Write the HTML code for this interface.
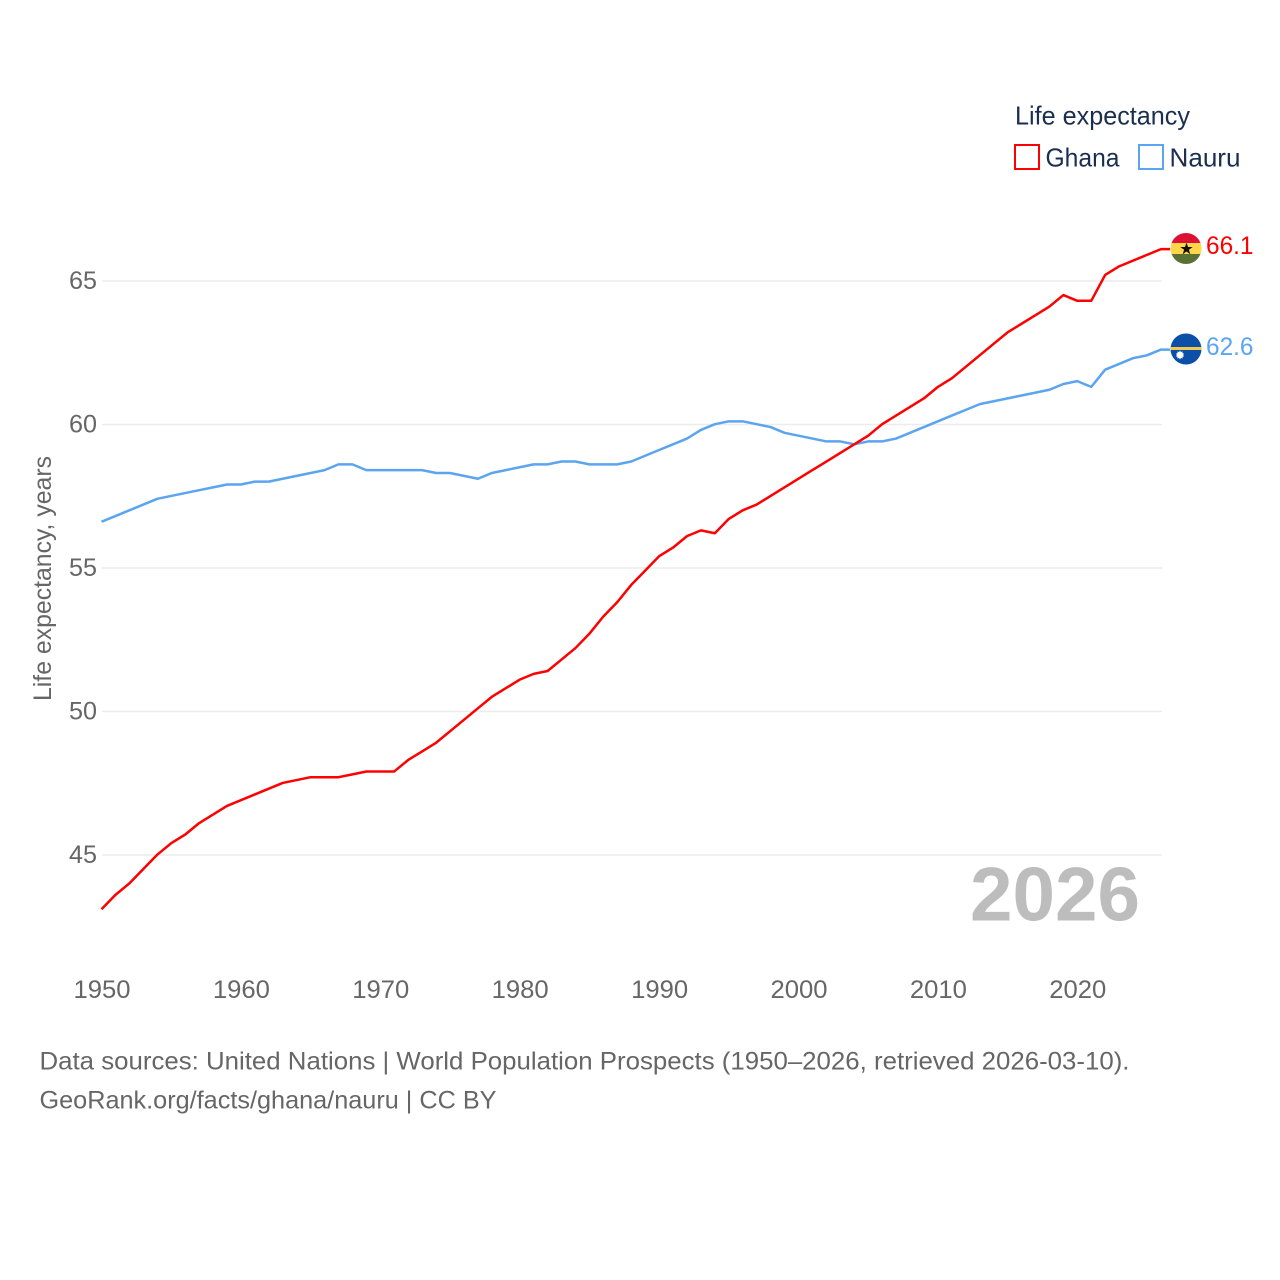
<!DOCTYPE html>
<html lang="en">
<head>
<meta charset="utf-8">
<title>Life expectancy: Ghana and Nauru</title>
<style>
html,body{margin:0;padding:0;background:#fff;}
svg{display:block;}
text{font-family:"Liberation Sans",sans-serif;}
</style>
</head>
<body>
<svg id="chart" width="1280" height="1280" viewBox="0 0 1280 1280" xmlns="http://www.w3.org/2000/svg">
  <rect width="1280" height="1280" fill="#fff"/>
  <g id="grid"></g>
  <g id="yticks"></g>
  <g id="xticks"></g>
  <text transform="translate(51,701) rotate(-90)" font-size="25" fill="#666" textLength="245" lengthAdjust="spacingAndGlyphs">Life expectancy, years</text>
  <g id="series"></g>

  <g>
    <text x="1015" y="124.500" font-size="26" fill="#1a2e4f" textLength="175" lengthAdjust="spacingAndGlyphs">Life expectancy</text>
    <rect x="1015" y="145" width="24" height="24" fill="none" stroke="#ff0000" stroke-width="2"/>
    <text x="1045.500" y="166.500" font-size="26" fill="#1a2e4f" textLength="74" lengthAdjust="spacingAndGlyphs">Ghana</text>
    <rect x="1139" y="145" width="24" height="24" fill="none" stroke="#5ba4f0" stroke-width="2"/>
    <text x="1169.500" y="166.500" font-size="26" fill="#1a2e4f" textLength="71" lengthAdjust="spacingAndGlyphs">Nauru</text>
  </g>

  <defs>
    <clipPath id="clip-gh"><circle cx="1186" cy="248.500" r="15.500"/></clipPath>
    <clipPath id="clip-nr"><circle cx="1186" cy="349" r="15.500"/></clipPath>
  </defs>
  <g clip-path="url(#clip-gh)">
    <rect x="1170" y="233" width="32" height="10" fill="#dd1133"/>
    <rect x="1170" y="243" width="32" height="11" fill="#ffd54a"/>
    <rect x="1170" y="254" width="32" height="11" fill="#5a7136"/>
    <polygon points="1186.500,242.500 1188,247 1192.700,247 1188.900,249.800 1190.300,254.300 1186.500,251.500 1182.700,254.300 1184.100,249.800 1180.300,247 1185,247" fill="#111"/>
  </g>
  <text x="1206" y="254" font-size="25" fill="#ff0000" textLength="47.500" lengthAdjust="spacingAndGlyphs">66.1</text>
  <g clip-path="url(#clip-nr)">
    <rect x="1170" y="333" width="32" height="32" fill="#0b4fa8"/>
    <rect x="1170" y="347" width="32" height="3" fill="#f2c84b"/>
    <polygon points="1180,350.500 1180.900,352.100 1182.500,351.400 1182.500,353.200 1184.200,353.700 1183,355 1184.200,356.300 1182.500,356.800 1182.500,358.600 1180.900,357.900 1180,359.500 1179.100,357.900 1177.500,358.600 1177.500,356.800 1175.800,356.300 1177,355 1175.800,353.700 1177.500,353.200 1177.500,351.400 1179.100,352.100" fill="#fff"/>
  </g>
  <text x="1206" y="355" font-size="25" fill="#5ba4f0" textLength="47.500" lengthAdjust="spacingAndGlyphs">62.6</text>

  <text x="970" y="920.500" font-size="76" font-weight="700" fill="#bdbdbd" textLength="170" lengthAdjust="spacingAndGlyphs">2026</text>

  <text x="39.500" y="1069.500" font-size="25" fill="#666" textLength="1090" lengthAdjust="spacingAndGlyphs">Data sources: United Nations | World Population Prospects (1950–2026, retrieved 2026-03-10).</text>
  <text x="39.500" y="1108.500" font-size="25" fill="#666" textLength="457" lengthAdjust="spacingAndGlyphs">GeoRank.org/facts/ghana/nauru | CC BY</text>
</svg>
<script>
const startYear = 1950;
const ghanaValues = [43.1,43.6,44.0,44.5,45.0,45.4,45.7,46.1,46.4,46.7,46.9,47.1,47.3,47.5,47.6,47.7,47.7,47.7,47.8,47.9,47.9,47.9,48.3,48.6,48.9,49.3,49.7,50.1,50.5,50.8,51.1,51.3,51.4,51.8,52.2,52.7,53.3,53.8,54.4,54.9,55.4,55.7,56.1,56.3,56.2,56.7,57.0,57.2,57.5,57.8,58.1,58.4,58.7,59.0,59.3,59.6,60.0,60.3,60.6,60.9,61.3,61.6,62.0,62.4,62.8,63.2,63.5,63.8,64.1,64.5,64.3,64.3,65.2,65.5,65.7,65.9,66.1];
const nauruValues = [56.6,56.8,57.0,57.2,57.4,57.5,57.6,57.7,57.8,57.9,57.9,58.0,58.0,58.1,58.2,58.3,58.4,58.6,58.6,58.4,58.4,58.4,58.4,58.4,58.3,58.3,58.2,58.1,58.3,58.4,58.5,58.6,58.6,58.7,58.7,58.6,58.6,58.6,58.7,58.9,59.1,59.3,59.5,59.8,60.0,60.1,60.1,60.0,59.9,59.7,59.6,59.5,59.4,59.4,59.3,59.4,59.4,59.5,59.7,59.9,60.1,60.3,60.5,60.7,60.8,60.9,61.0,61.1,61.2,61.4,61.5,61.3,61.9,62.1,62.3,62.4,62.6];
const yTickValues = [45,50,55,60,65];
const xTickValues = [1950,1960,1970,1980,1990,2000,2010,2020];

const NS = 'http://www.w3.org/2000/svg';
const xScale = function (year) { return 101.5 + (year - 1950) * 13.94; };
const yScale = function (v) { return 854.7 - (v - 45) * 28.7; };
const gridRight = 1162;

const gridGroup = document.getElementById('grid');
const yGroup = document.getElementById('yticks');
const xGroup = document.getElementById('xticks');
const seriesGroup = document.getElementById('series');

yTickValues.forEach(function (v) {
  const line = document.createElementNS(NS, 'line');
  
  
  line.setAttribute('x1', 102);
  line.setAttribute('x2', gridRight);
  line.setAttribute('y1', yScale(v) + 0.3);
  line.setAttribute('y2', yScale(v) + 0.3);
  line.setAttribute('stroke', '#ececec');
  line.setAttribute('stroke-width', '1.5');
  gridGroup.appendChild(line);

  const label = document.createElementNS(NS, 'text');
  
  
  label.setAttribute('x', 69);
  label.setAttribute('y', yScale(v) + 8.3);
  label.setAttribute('font-size', '25');
  label.setAttribute('fill', '#666');
  label.setAttribute('textLength', '28');
  label.setAttribute('lengthAdjust', 'spacingAndGlyphs');
  label.textContent = String(v);
  yGroup.appendChild(label);
});

xTickValues.forEach(function (year) {
  const label = document.createElementNS(NS, 'text');
  
  
  label.setAttribute('x', xScale(year) - 28);
  label.setAttribute('y', 998);
  label.setAttribute('font-size', '25');
  label.setAttribute('fill', '#666');
  label.setAttribute('textLength', '57');
  label.setAttribute('lengthAdjust', 'spacingAndGlyphs');
  label.textContent = String(year);
  xGroup.appendChild(label);
});

function buildPoints(values) {
  const pts = values.map(function (v, i) {
    return xScale(startYear + i).toFixed(2) + ',' + yScale(v).toFixed(2);
  });
  const last = values[values.length - 1];
  pts.push('1170,' + yScale(last).toFixed(2));
  return pts.join(' ');
}

const nauruLine = document.createElementNS(NS, 'polyline');


nauruLine.setAttribute('points', buildPoints(nauruValues));
nauruLine.setAttribute('fill', 'none');
nauruLine.setAttribute('stroke', '#5ba4f0');
nauruLine.setAttribute('stroke-width', '2.5');
nauruLine.setAttribute('stroke-linejoin', 'round');
seriesGroup.appendChild(nauruLine);

const ghanaLine = document.createElementNS(NS, 'polyline');


ghanaLine.setAttribute('points', buildPoints(ghanaValues));
ghanaLine.setAttribute('fill', 'none');
ghanaLine.setAttribute('stroke', '#ff0000');
ghanaLine.setAttribute('stroke-width', '2.5');
ghanaLine.setAttribute('stroke-linejoin', 'round');
seriesGroup.appendChild(ghanaLine);
</script>
</body>
</html>
